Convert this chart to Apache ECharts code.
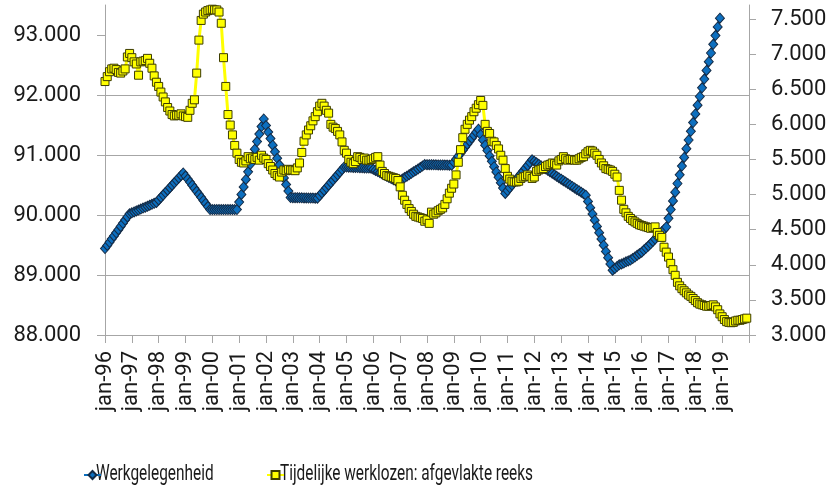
<!DOCTYPE html>
<html><head><meta charset="utf-8">
<script src="https://cdn.jsdelivr.net/npm/echarts@6/dist/echarts.min.js"></script>
<style>html,body{margin:0;padding:0;background:#fff}#c{width:831px;height:489px}</style>
</head><body><div id="c"></div>
<script>
const monthNames = ['jan','feb','mrt','apr','mei','jun','jul','aug','sep','okt','nov','dec'];
const yearSuffixes = ['96','97','98','99','00','01','02','03','04','05','06','07','08','09','10','11','12','13','14','15','16','17','18','19','20'];
const categories = [];
yearSuffixes.forEach(function (y, yi) {
  monthNames.forEach(function (m, mi) {
    if (yi < yearSuffixes.length - 1 || mi === 0) categories.push(m + '-' + y);
  });
});

const werkgelegenheid = [
  89440, 89493, 89545, 89598, 89651, 89704, 89756, 89809, 89862, 89915, 89967, 90020,
  90036, 90052, 90068, 90083, 90099, 90115, 90131, 90147, 90163, 90178, 90194, 90210,
  90251, 90292, 90333, 90373, 90414, 90455, 90496, 90537, 90578, 90618, 90659, 90700,
  90649, 90598, 90548, 90497, 90446, 90395, 90345, 90294, 90243, 90192, 90141, 90090,
  90090, 90090, 90090, 90090, 90090, 90090, 90090, 90090, 90090, 90090, 90090, 90090,
  90216, 90342, 90468, 90593, 90719, 90845, 90971, 91097, 91223, 91348, 91474, 91600,
  91491, 91382, 91273, 91163, 91054, 90945, 90836, 90727, 90618, 90508, 90399, 90290,
  90289, 90289, 90288, 90287, 90286, 90285, 90284, 90283, 90283, 90282, 90281, 90280,
  90323, 90367, 90410, 90453, 90497, 90540, 90583, 90627, 90670, 90713, 90757, 90800,
  90798, 90797, 90795, 90793, 90792, 90790, 90788, 90787, 90785, 90783, 90782, 90780,
  90761, 90742, 90723, 90703, 90684, 90665, 90646, 90627, 90608, 90588, 90569, 90550,
  90574, 90598, 90623, 90647, 90671, 90695, 90719, 90743, 90768, 90792, 90816, 90840,
  90839, 90838, 90838, 90837, 90836, 90835, 90835, 90834, 90833, 90832, 90831, 90830,
  90880, 90930, 90980, 91030, 91080, 91130, 91180, 91230, 91280, 91330, 91380, 91430,
  91341, 91252, 91163, 91073, 90984, 90895, 90806, 90717, 90628, 90538, 90449, 90360,
  90407, 90453, 90500, 90547, 90593, 90640, 90687, 90733, 90780, 90827, 90873, 90920,
  90895, 90870, 90845, 90820, 90795, 90770, 90745, 90720, 90695, 90670, 90645, 90620,
  90596, 90572, 90548, 90523, 90499, 90475, 90451, 90427, 90403, 90378, 90354, 90330,
  90226, 90122, 90018, 89913, 89809, 89705, 89601, 89497, 89393, 89288, 89184, 89080,
  89110, 89140, 89170, 89185, 89200, 89220, 89235, 89250, 89275, 89300, 89330, 89355,
  89380, 89415, 89450, 89485, 89520, 89560, 89600, 89640, 89680, 89720, 89760, 89800,
  89945, 90090, 90235, 90380, 90525, 90670, 90815, 90960, 91105, 91250, 91395, 91540,
  91685, 91830, 91975, 92120, 92265, 92410, 92555, 92700, 92845, 92990, 93135, 93280
];

const tijdelijkeWerklozen = [
  6610, 6680, 6750, 6790, 6800, 6780, 6740, 6730, 6760, 6790, 6960, 7010,
  6950, 6890, 6860, 6700, 6890, 6900, 6910, 6940, 6870, 6800, 6690, 6600,
  6540, 6460, 6390, 6320, 6240, 6190, 6140, 6120, 6130, 6130, 6150, 6120,
  6110, 6100, 6200, 6300, 6350, 6730, 7200, 7480, 7570, 7600, 7620, 7630,
  7640, 7630, 7630, 7600, 7440, 6950, 6540, 6140, 5990, 5850, 5700, 5590,
  5500, 5460, 5450, 5480, 5540, 5510, 5520, 5500, 5530, 5490, 5560, 5520,
  5500, 5440, 5400, 5350, 5300, 5270, 5250, 5320, 5350, 5340, 5360, 5350,
  5350, 5340, 5380, 5450, 5600, 5760, 5850, 5920, 5980, 6050, 6110, 6180,
  6260, 6300, 6260, 6200, 6160, 6000, 5960, 5940, 5900, 5850, 5750, 5630,
  5590, 5500, 5460, 5440, 5470, 5540, 5530, 5500, 5520, 5490, 5490, 5500,
  5510, 5530, 5540, 5420, 5330, 5300, 5270, 5260, 5250, 5240, 5230, 5200,
  5110, 4990, 4920, 4860, 4800, 4760, 4720, 4690, 4680, 4670, 4660, 4620,
  4640, 4590, 4750, 4720, 4740, 4770, 4790, 4810, 4860, 4940, 5020, 5090,
  5150, 5280, 5460, 5640, 5810, 5930, 6000, 6060, 6110, 6180, 6230, 6280,
  6340, 6270, 6000, 5900, 5870, 5760, 5750, 5700, 5650, 5560, 5490, 5370,
  5260, 5220, 5190, 5180, 5180, 5190, 5230, 5250, 5260, 5280, 5260, 5230,
  5250, 5330, 5350, 5360, 5370, 5400, 5420, 5430, 5450, 5440, 5420, 5480,
  5500, 5540, 5510, 5490, 5500, 5500, 5490, 5490, 5510, 5530, 5540, 5580,
  5610, 5630, 5620, 5590, 5560, 5500, 5450, 5410, 5370, 5360, 5350, 5330,
  5290, 5250, 5060, 4920, 4790, 4740, 4690, 4660, 4630, 4610, 4590, 4570,
  4560, 4550, 4540, 4530, 4520, 4530, 4540, 4460, 4420, 4390, 4250, 4180,
  4110, 4020, 3930, 3850, 3750, 3700, 3660, 3630, 3600, 3570, 3550, 3520,
  3490, 3460, 3440, 3430, 3420, 3410, 3410, 3420, 3430, 3400, 3360, 3300,
  3260, 3220, 3190, 3180, 3175, 3180, 3200, 3210, 3210, 3220, 3230, 3240
];

const leftTicks = [88000, 89000, 90000, 91000, 92000, 93000];
const rightTicks = [3000, 3500, 4000, 4500, 5000, 5500, 6000, 6500, 7000, 7500];
const seriesNames = ['Werkgelegenheid', 'Tijdelijke werklozen: afgevlakte reeks'];

function fmt(v) {
  const t = Math.floor(v / 1000), r = Math.round(v % 1000);
  return t + '.' + String(r).padStart(3, '0');
}

const gray = '#a6a6a6';
const txt = '#1a1a1a';
const labelFont = 'Roboto, "Liberation Sans", sans-serif';
const legendFontCss = '22px Roboto, "Liberation Sans", sans-serif';

function legendText(name, x) {
  return {
    type: 'text', x: x, y: 474, scaleX: 0.70, silent: true,
    style: { text: name, font: legendFontCss, fill: txt, align: 'left', verticalAlign: 'middle' }
  };
}

const chart = echarts.init(document.getElementById('c'), null, { renderer: 'canvas' });
chart.setOption({
  animation: false,
  backgroundColor: '#fff',
  grid: { left: 105, right: 82, top: 5, bottom: 154, containLabel: false },
  legend: [
    { data: [seriesNames[0]], left: 78, top: 465, itemWidth: 17, itemHeight: 10,
      formatter: function () { return ''; }, selectedMode: false },
    { data: [seriesNames[1]], left: 261, top: 465, itemWidth: 17, itemHeight: 10,
      formatter: function () { return ''; }, selectedMode: false }
  ],
  graphic: [
    legendText(seriesNames[0], 96),
    legendText(seriesNames[1], 280)
  ],
  xAxis: {
    type: 'category', data: categories, boundaryGap: false,
    axisLine: { lineStyle: { color: gray, width: 1 } },
    axisTick: { show: true, interval: 11, length: 8, lineStyle: { color: gray } },
    axisLabel: {
      interval: function (idx) { return idx % 12 === 0 && idx < categories.length - 1; },
      rotate: 90, margin: 16, fontSize: 22, fontFamily: labelFont, color: txt
    },
    splitLine: { show: false }
  },
  yAxis: [
    {
      type: 'value', position: 'left', min: 88000, max: 93500, interval: 1000,
      axisLine: { show: true, lineStyle: { color: gray } },
      axisTick: { show: true, length: 8, customValues: leftTicks, lineStyle: { color: gray } },
      axisLabel: { customValues: leftTicks, formatter: fmt, margin: 24, fontSize: 22, fontFamily: labelFont, color: txt },
      splitLine: { show: true, showMinLine: false, showMaxLine: false, lineStyle: { color: gray, width: 1 } }
    },
    {
      type: 'value', position: 'right', min: 3000, max: 7700, interval: 500,
      axisLine: { show: true, lineStyle: { color: gray } },
      axisTick: { show: true, length: 7, customValues: rightTicks, lineStyle: { color: gray } },
      axisLabel: { customValues: rightTicks, formatter: fmt, margin: 22, fontSize: 22, fontFamily: labelFont, color: txt },
      splitLine: { show: false }
    }
  ],
  series: [
    {
      name: seriesNames[0], type: 'line', yAxisIndex: 0, data: werkgelegenheid,
      symbol: 'diamond', symbolSize: [9, 10], showAllSymbol: true,
      lineStyle: { color: '#0B6FBE', width: 3 },
      itemStyle: { color: '#0D6FBF', borderColor: '#152b45', borderWidth: 1 },
      emphasis: { disabled: true }, z: 2
    },
    {
      name: seriesNames[1], type: 'line', yAxisIndex: 1, data: tijdelijkeWerklozen,
      symbol: 'rect', symbolSize: 8, showAllSymbol: true,
      lineStyle: { color: '#FFFF00', width: 3 },
      itemStyle: { color: '#FFFF00', borderColor: '#3d3d00', borderWidth: 1 },
      emphasis: { disabled: true }, z: 3
    }
  ]
});
</script>
</body></html>
